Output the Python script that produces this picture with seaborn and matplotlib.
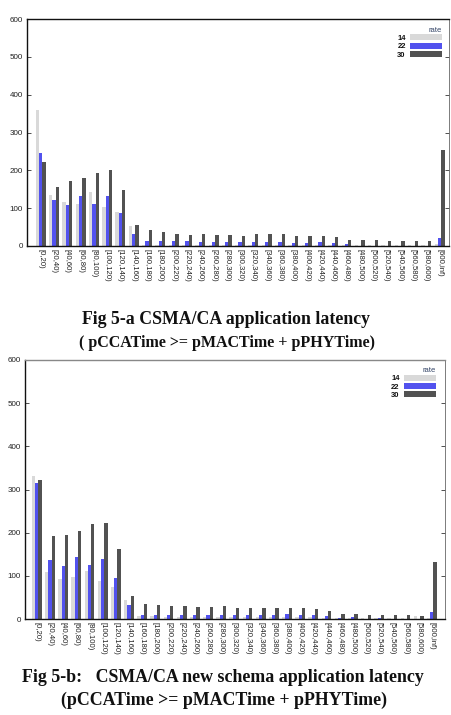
import numpy as np
import pandas as pd
import matplotlib
matplotlib.use("Agg")
import matplotlib.pyplot as plt
import seaborn as sns

categories = ["[0,20)", "[20,40)", "[40,60)", "[60,80)", "[80,100)", "[100,120)",
              "[120,140)", "[140,160)", "[160,180)", "[180,200)", "[200,220)",
              "[220,240)", "[240,260)", "[260,280)", "[280,300)", "[300,320)",
              "[320,340)", "[340,360)", "[360,380)", "[380,400)", "[400,420)",
              "[420,440)", "[440,460)", "[460,480)", "[480,500)", "[500,520)",
              "[520,540)", "[540,560)", "[560,580)", "[580,600)", "[600,inf)"]
rates = ["14", "22", "30"]

a_rate14 = [360, 135, 116, 111, 142, 104, 91, 54, 3, 3, 3, 3, 3, 3, 3, 3,
            3, 3, 3, 3, 3, 3, 3, 2, 2, 2, 2, 2, 2, 2, 4]
a_rate22 = [246, 122, 109, 131, 110, 131, 86, 31, 12, 12, 12, 12, 10, 10, 10, 10,
            10, 10, 10, 9, 7, 10, 8, 4, 1, 1, 1, 1, 1, 1, 20]
a_rate30 = [223, 157, 171, 181, 194, 201, 147, 55, 41, 36, 33, 30, 31, 30, 30, 27,
            33, 33, 33, 27, 27, 27, 25, 17, 17, 17, 14, 12, 12, 12, 255]

b_rate14 = [332, 109, 93, 98, 111, 88, 74, 44, 7, 7, 5, 5, 5, 5, 5, 4,
            4, 4, 4, 4, 5, 5, 3, 2, 2, 2, 2, 2, 2, 7, 3]
b_rate22 = [315, 137, 123, 144, 125, 139, 95, 32, 9, 9, 9, 9, 9, 9, 9, 9,
            9, 9, 9, 12, 9, 9, 7, 2, 4, 1, 3, 1, 1, 1, 16]
b_rate30 = [321, 192, 195, 204, 220, 222, 162, 53, 35, 32, 30, 30, 28, 28, 30, 25,
            25, 25, 25, 25, 25, 23, 18, 12, 12, 9, 9, 9, 9, 7, 133]

yticks = [0, 100, 200, 300, 400, 500, 600]

captions_a = ["Fig 5-a CSMA/CA application latency",
              "( pCCATime >= pMACTime + pPHYTime)"]
captions_b = ["Fig 5-b:   CSMA/CA new schema application latency",
              "(pCCATime >= pMACTime + pPHYTime)"]

palette = {"14": "#d9d9d9", "22": "#5252ee", "30": "#525252"}


def long_df(s14, s22, s30):
    rows = []
    for r, s in zip(rates, [s14, s22, s30]):
        for c, v in zip(categories, s):
            rows.append({"bin": c, "count": v, "rate": r})
    return pd.DataFrame(rows)


sns.set_theme(style="white")
plt.rcParams["font.family"] = ["Liberation Sans", "DejaVu Sans"]

fig = plt.figure(figsize=(4.51, 7.15), dpi=100)
ax1 = fig.add_axes([27 / 451, 1 - 246 / 715, 422 / 451, 227 / 715])
ax2 = fig.add_axes([25 / 451, 1 - 619 / 715, 420 / 451, 259 / 715])


def draw(ax, df, xlim, topcolor, leg_anchor):
    sns.barplot(data=df, x="bin", y="count", hue="rate", order=categories,
                hue_order=rates, palette=palette, width=0.75, ax=ax,
                saturation=1, linewidth=0, errorbar=None)
    ax.set_xlim(*xlim)
    ax.set_ylim(0, 600)
    ax.set_yticks(yticks)
    ax.set_yticklabels([str(t) for t in yticks], fontsize=5.8)
    ax.set_xticks(range(len(categories)))
    ax.set_xticklabels(categories, rotation=-90, fontsize=5.6)
    ax.set_xlabel("")
    ax.set_ylabel("")
    ax.tick_params(axis="y", direction="in", length=3, width=0.6, pad=3,
                   right=True, left=True, colors="#333333", labelcolor="#222222")
    ax.tick_params(axis="x", length=0, pad=2, labelcolor="#222222")
    for name, sp in ax.spines.items():
        sp.set_visible(True)
        sp.set_color("#111111")
        sp.set_linewidth(1.0)
    ax.spines["top"].set_color(topcolor)
    ax.spines["right"].set_linewidth(0.6)
    ax.spines["right"].set_color("#666666")
    handles, labels = ax.get_legend_handles_labels()
    leg = ax.legend(handles, labels, title="rate", markerfirst=False,
                    frameon=False, fontsize=5.5, title_fontsize=5.5,
                    handlelength=4.2, handleheight=0.8, labelspacing=0.1,
                    handletextpad=0.5, borderaxespad=0,
                    loc="upper right", bbox_to_anchor=leg_anchor)
    leg.get_title().set_color("#334466")
    leg._legend_box.align = "right"
    for t in leg.get_texts():
        t.set_fontweight("bold")
        t.set_color("#111111")


draw(ax1, long_df(a_rate14, a_rate22, a_rate30), (-1.03, 30.71), "#111111",
     (0.99, 0.98))
draw(ax2, long_df(b_rate14, b_rate22, b_rate30), (-0.9, 31.0), "#888888",
     (0.985, 0.985))

serif = ["Liberation Serif", "DejaVu Serif"]
fig.text(0.5, 1 - 320 / 715, captions_a[0], ha="center", va="center",
         fontsize=12.8, fontweight="bold", family=serif, color="#111111")
fig.text(0.503, 1 - 343 / 715, captions_a[1], ha="center", va="center",
         fontsize=11.5, fontweight="bold", family=serif, color="#111111")
fig.text(0.495, 1 - 678 / 715, captions_b[0], ha="center", va="center",
         fontsize=12.9, fontweight="bold", family=serif, color="#111111")
fig.text(0.496, 1 - 700 / 715, captions_b[1], ha="center", va="center",
         fontsize=12.9, fontweight="bold", family=serif, color="#111111")

fig.savefig("out.png", dpi=100)
